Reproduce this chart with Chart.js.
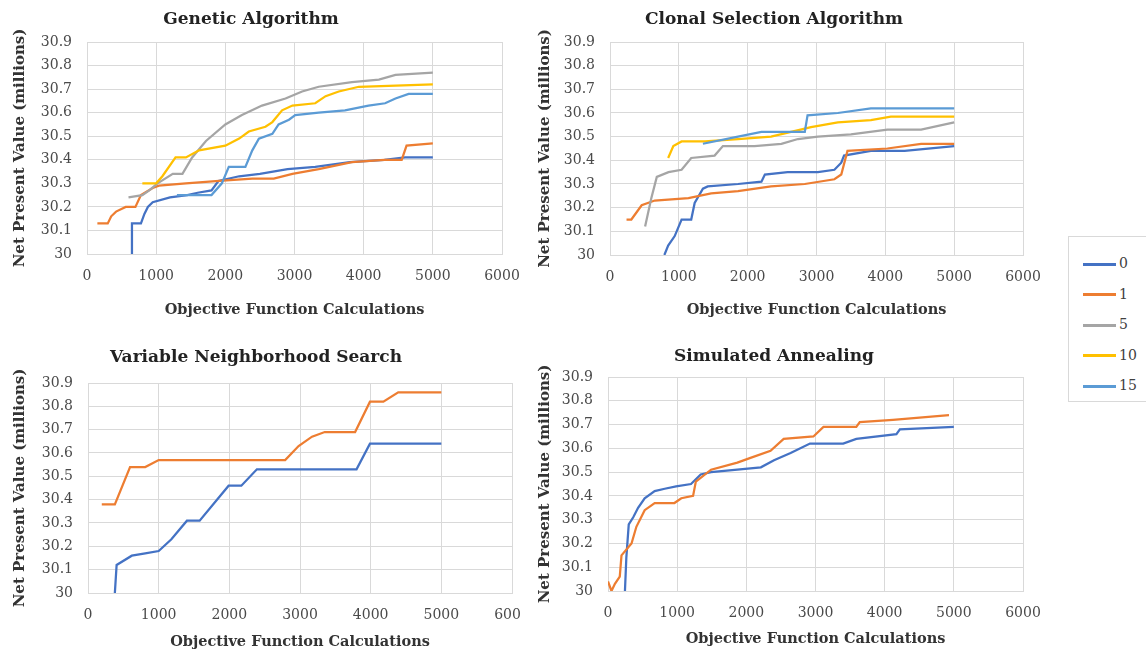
<!DOCTYPE html>
<html>
<head>
<meta charset="utf-8">
<script src="https://cdn.jsdelivr.net/npm/chart.js@4.4.1/dist/chart.umd.min.js"></script>
<style>
  body { margin: 0; background: #fff; }
  #wrap { position: relative; width: 1146px; height: 651px; overflow: hidden; background: #fff; }
  .panel { position: absolute; overflow: hidden; }
  .panel canvas { position: absolute; left: 0; top: 0; }
  #legend { position: absolute; left: 1068px; top: 236px; width: 100px; height: 164px;
            border: 1px solid #d9d9d9; background: #fff; z-index: 5;
            font-family: "DejaVu Serif", serif; font-size: 14px; color: #404040; }
  #legend .item { position: absolute; left: 14px; height: 18px; line-height: 18px; }
  #legend .sw { display: inline-block; width: 33px; height: 3px; vertical-align: middle; margin-right: 3px; }
</style>
</head>
<body>
<div id="wrap">
  <div class="panel" style="left:0;top:0;width:520px;height:330px"><canvas id="ga" width="598" height="330"></canvas></div>
  <div class="panel" style="left:525px;top:0;width:621px;height:330px"><canvas id="csa" width="594" height="330"></canvas></div>
  <div class="panel" style="left:0;top:330px;width:520px;height:321px"><canvas id="vns" width="600" height="321"></canvas></div>
  <div class="panel" style="left:525px;top:330px;width:621px;height:321px"><canvas id="sa" width="564" height="321"></canvas></div>
  <div id="legend"></div>
</div>
<script>
// series shared by all panels
const seriesNames = ['0', '1', '5', '10', '15'];
const seriesColors = ['#4472C4', '#ED7D31', '#A5A5A5', '#FFC000', '#5B9BD5'];
const xTicks = [0, 1000, 2000, 3000, 4000, 5000, 6000];
const yTicks = [30, 30.1, 30.2, 30.3, 30.4, 30.5, 30.6, 30.7, 30.8, 30.9];

// Genetic Algorithm  [calculations, NPV]
const ga0 = [[650,30.0],[650,30.13],[780,30.13],[830,30.17],[880,30.2],[950,30.22],[1200,30.24],[1450,30.25],[1600,30.26],[1800,30.27],[1900,30.31],[2200,30.33],[2500,30.34],[2900,30.36],[3300,30.37],[3800,30.39],[4300,30.4],[4600,30.41],[5000,30.41]];
const ga1 = [[150,30.13],[300,30.13],[350,30.16],[420,30.18],[560,30.2],[700,30.2],[780,30.25],[950,30.28],[1040,30.29],[1430,30.3],[1910,30.31],[2390,30.32],[2700,30.32],[2970,30.34],[3350,30.36],[3830,30.39],[4300,30.4],[4550,30.4],[4620,30.46],[5000,30.47]];
const ga5 = [[600,30.24],[800,30.25],[900,30.27],[1020,30.3],[1240,30.34],[1380,30.34],[1520,30.41],[1720,30.48],[2000,30.55],[2240,30.59],[2530,30.63],[2870,30.66],[3110,30.69],[3350,30.71],[3830,30.73],[4220,30.74],[4460,30.76],[5000,30.77]];
const ga10 = [[800,30.3],[1000,30.3],[1090,30.33],[1280,30.41],[1430,30.41],[1620,30.44],[2000,30.46],[2200,30.49],[2340,30.52],[2580,30.54],[2680,30.56],[2820,30.61],[2970,30.63],[3300,30.64],[3450,30.67],[3640,30.69],[3930,30.71],[5000,30.72]];
const ga15 = [[1300,30.25],[1800,30.25],[1950,30.3],[2050,30.37],[2290,30.37],[2390,30.44],[2485,30.49],[2680,30.51],[2770,30.55],[2920,30.57],[3010,30.59],[3350,30.6],[3730,30.61],[4070,30.63],[4310,30.64],[4460,30.66],[4650,30.68],[5000,30.68]];

// Clonal Selection Algorithm
const cs0 = [[790,30.0],[845,30.04],[940,30.08],[1040,30.15],[1180,30.15],[1230,30.22],[1350,30.28],[1420,30.29],[1860,30.3],[2200,30.31],[2250,30.34],[2580,30.35],[3020,30.35],[3260,30.36],[3360,30.39],[3400,30.42],[3790,30.44],[4280,30.44],[5000,30.46]];
const cs1 = [[240,30.15],[310,30.15],[460,30.21],[650,30.23],[1140,30.24],[1470,30.26],[1860,30.27],[2340,30.29],[2830,30.3],[3260,30.32],[3360,30.34],[3450,30.44],[4030,30.45],[4520,30.47],[5000,30.47]];
const cs5 = [[510,30.12],[600,30.24],[680,30.33],[850,30.35],[1040,30.36],[1180,30.41],[1520,30.42],[1640,30.46],[2100,30.46],[2490,30.47],[2730,30.49],[3020,30.5],[3500,30.51],[4030,30.53],[4520,30.53],[5000,30.56]];
const cs10 = [[845,30.41],[920,30.46],[1040,30.48],[1380,30.48],[1860,30.49],[2340,30.5],[2630,30.52],[2920,30.54],[3310,30.56],[3790,30.57],[4080,30.585],[5000,30.585]];
const cs15 = [[1350,30.47],[1860,30.5],[2200,30.52],[2830,30.52],[2870,30.59],[3310,30.6],[3790,30.62],[5000,30.62]];

// Variable Neighborhood Search
const vn0 = [[380,30.0],[405,30.12],[620,30.16],[810,30.17],[1000,30.18],[1180,30.23],[1400,30.31],[1580,30.31],[1990,30.46],[2170,30.46],[2390,30.53],[3800,30.53],[3990,30.64],[5000,30.64]];
const vn1 = [[195,30.38],[380,30.38],[595,30.54],[810,30.54],[1000,30.57],[2790,30.57],[2980,30.63],[3170,30.67],[3350,30.69],[3780,30.69],[3990,30.82],[4180,30.82],[4390,30.86],[5000,30.86]];

// Simulated Annealing
const sa0 = [[245,30.0],[265,30.14],[300,30.28],[365,30.31],[435,30.35],[530,30.39],[675,30.42],[820,30.43],[985,30.44],[1200,30.45],[1340,30.49],[1490,30.5],[1870,30.51],[2210,30.52],[2400,30.55],[2640,30.58],[2920,30.62],[3400,30.62],[3590,30.64],[4170,30.66],[4220,30.68],[5000,30.69]];
const sa1 = [[0,30.04],[50,30.0],[100,30.03],[170,30.06],[195,30.15],[340,30.2],[410,30.27],[530,30.34],[675,30.37],[960,30.37],[1060,30.39],[1230,30.4],[1270,30.46],[1490,30.51],[1870,30.54],[2060,30.56],[2350,30.59],[2540,30.64],[2970,30.65],[3115,30.69],[3590,30.69],[3640,30.71],[4120,30.72],[4930,30.74]];

const fontFamily = '"DejaVu Serif", serif';
const gridColor = '#d9d9d9';
const tickColor = '#4a4a4a';

function makePanel(id, title, series, g) {
    new Chart(document.getElementById(id), {
        type: 'line',
        data: {
            datasets: series.map(function (pts, i) {
                return {
                    label: seriesNames[i],
                    data: pts.map(function (p) { return { x: p[0], y: p[1] }; }),
                    borderColor: seriesColors[i],
                    backgroundColor: seriesColors[i],
                    borderWidth: 2.25,
                    pointRadius: 0,
                    tension: 0,
                    fill: false,
                    order: series.length - i
                };
            })
        },
        options: {
            responsive: false,
            animation: false,
            layout: { padding: { right: g.padRight } },
            plugins: {
                legend: { display: false },
                tooltip: { enabled: false },
                title: {
                    display: true,
                    text: title,
                    color: '#222',
                    font: { family: fontFamily, size: 17, weight: 'bold' },
                    padding: { top: g.titleTop, bottom: g.titleBottom }
                }
            },
            scales: {
                x: {
                    type: 'linear',
                    min: 0,
                    max: 6000,
                    afterBuildTicks: function (s) { s.ticks = xTicks.map(function (v) { return { value: v }; }); },
                    afterFit: function (s) { s.height = g.xHeight; },
                    grid: { color: gridColor, drawTicks: false },
                    border: { color: gridColor },
                    ticks: {
                        padding: 13.6,
                        color: tickColor,
                        font: { family: fontFamily, size: 14 },
                        callback: function (v) { return String(v); }
                    },
                    title: {
                        display: true,
                        text: 'Objective Function Calculations',
                        color: '#333',
                        font: { family: fontFamily, size: 14.5, weight: 'bold' },
                        padding: { top: 0, bottom: g.xTitleBottom }
                    }
                },
                y: {
                    type: 'linear',
                    min: 30,
                    max: 30.9,
                    afterBuildTicks: function (s) { s.ticks = yTicks.map(function (v) { return { value: v }; }); },
                    afterFit: function (s) { s.width = g.yWidth; },
                    grid: { color: gridColor, drawTicks: false },
                    border: { color: gridColor },
                    ticks: {
                        padding: 15,
                        color: tickColor,
                        font: { family: fontFamily, size: 14 },
                        callback: function (v) { return String(v); }
                    },
                    title: {
                        display: true,
                        text: 'Net Present Value (millions)',
                        color: '#333',
                        font: { family: fontFamily, size: 15, weight: 'bold' },
                        padding: { top: 11, bottom: 0 }
                    }
                }
            }
        }
    });
}

makePanel('ga', 'Genetic Algorithm', [ga0, ga1, ga5, ga10, ga15],
    { padRight: 96, titleTop: 9.8, titleBottom: 11.8, xHeight: 76, xTitleBottom: 11.3, yWidth: 87 });
makePanel('csa', 'Clonal Selection Algorithm', [cs0, cs1, cs5, cs10, cs15],
    { padRight: 96, titleTop: 9.8, titleBottom: 11.8, xHeight: 75, xTitleBottom: 11.3, yWidth: 85 });
makePanel('vns', 'Variable Neighborhood Search', [vn0, vn1],
    { padRight: 88, titleTop: 17.8, titleBottom: 14.8, xHeight: 58, xTitleBottom: 0.3, yWidth: 88 });
makePanel('sa', 'Simulated Annealing', [sa0, sa1],
    { padRight: 66, titleTop: 16.8, titleBottom: 9.8, xHeight: 60, xTitleBottom: 3.3, yWidth: 83 });

// legend
const legend = document.getElementById('legend');
seriesNames.forEach(function (name, i) {
    const item = document.createElement('div');
    item.className = 'item';
    item.style.top = (17 + i * 30.5) + 'px';
    item.innerHTML = '<span class="sw" style="background:' + seriesColors[i] + '"></span>' + name;
    legend.appendChild(item);
});
</script>
</body>
</html>
